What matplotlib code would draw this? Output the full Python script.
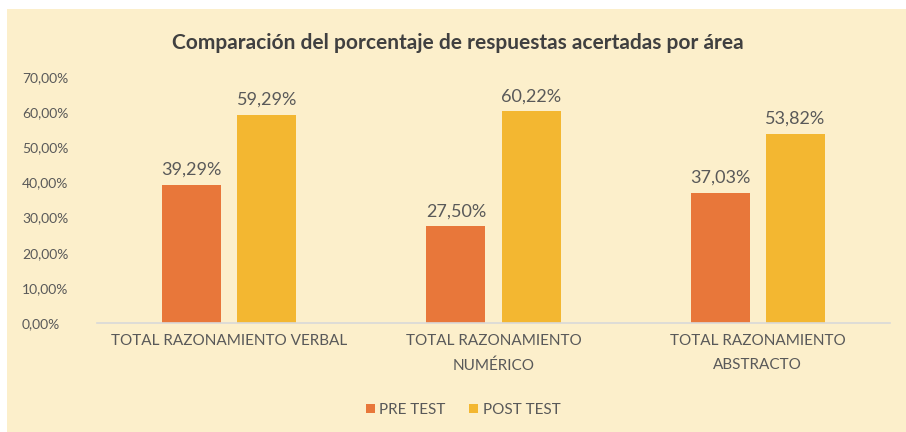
import matplotlib
matplotlib.use("Agg")
import matplotlib.pyplot as plt
from matplotlib.patches import Rectangle
import numpy as np

categories = ["TOTAL RAZONAMIENTO VERBAL", "TOTAL RAZONAMIENTO\nNUMÉRICO", "TOTAL RAZONAMIENTO\nABSTRACTO"]
pre_test = [39.29, 27.50, 37.03]
post_test = [59.29, 60.22, 53.82]
series_names = ["PRE TEST", "POST TEST"]
yticks = [0, 10, 20, 30, 40, 50, 60, 70]

plt.rcParams['font.family'] = ['Lato', 'DejaVu Sans']

BG = "#FCEFCB"
ORANGE = "#E8773A"
YELLOW = "#F3B731"
TXT = "#595959"

fig = plt.figure(figsize=(9.06, 4.32), dpi=100)
fig.patch.set_facecolor("white")
fig.patches.append(Rectangle((7/906, 0), 1 - 7/906, 1 - 9/432, transform=fig.transFigure,
                             facecolor=BG, edgecolor="none", zorder=-10))

ax = fig.add_axes([97/906, 1 - 323/432, (890 - 97)/906, (323 - 77)/432])
ax.set_facecolor("none")

x = np.arange(len(categories))
w = 0.223
off = 0.142
b1 = ax.bar(x - off, pre_test, w, color=ORANGE, label=series_names[0], zorder=2)
b2 = ax.bar(x + off, post_test, w, color=YELLOW, label=series_names[1], zorder=2)

def fmt(v):
    return f"{v:.2f}".replace(".", ",") + "%"

for bars, vals in ((b1, pre_test), (b2, post_test)):
    for r, v in zip(bars, vals):
        ax.annotate(fmt(v), (r.get_x() + r.get_width() / 2, v), xytext=(0, 5),
                    textcoords="offset points", ha="center", va="bottom",
                    fontsize=13, color=TXT)

ax.set_xlim(-0.5, 2.5)
ax.set_ylim(0, 70)
ax.set_yticks(yticks)
ax.set_yticklabels([f"{t:.2f}".replace(".", ",") + "%" for t in yticks])
ax.set_xticks(x)
ax.set_xticklabels(categories, linespacing=1.9)
ax.tick_params(axis="y", length=0, labelsize=10, labelcolor=TXT, pad=54)
for lab in ax.get_yticklabels():
    lab.set_horizontalalignment("left")
ax.tick_params(axis="x", length=0, labelsize=11, labelcolor=TXT, pad=8)
for s in ("top", "right", "left"):
    ax.spines[s].set_visible(False)
ax.spines["bottom"].set_color("#D9D9D9")
ax.spines["bottom"].set_linewidth(1.2)

fig.text(0.505, 1 - 43/432, "Comparación del porcentaje de respuestas acertadas por área",
         ha="center", va="center", fontsize=15, fontweight="bold", color="#404040")

leg = fig.legend(handles=[b1, b2], labels=series_names, loc="center",
                 bbox_to_anchor=(463/906, 1 - 410/432), ncol=2, frameon=False,
                 fontsize=11, handlelength=0.6, handleheight=0.6, handletextpad=0.3,
                 columnspacing=1.5, labelcolor=TXT)

fig.savefig("out.png", dpi=100, facecolor=fig.get_facecolor())
